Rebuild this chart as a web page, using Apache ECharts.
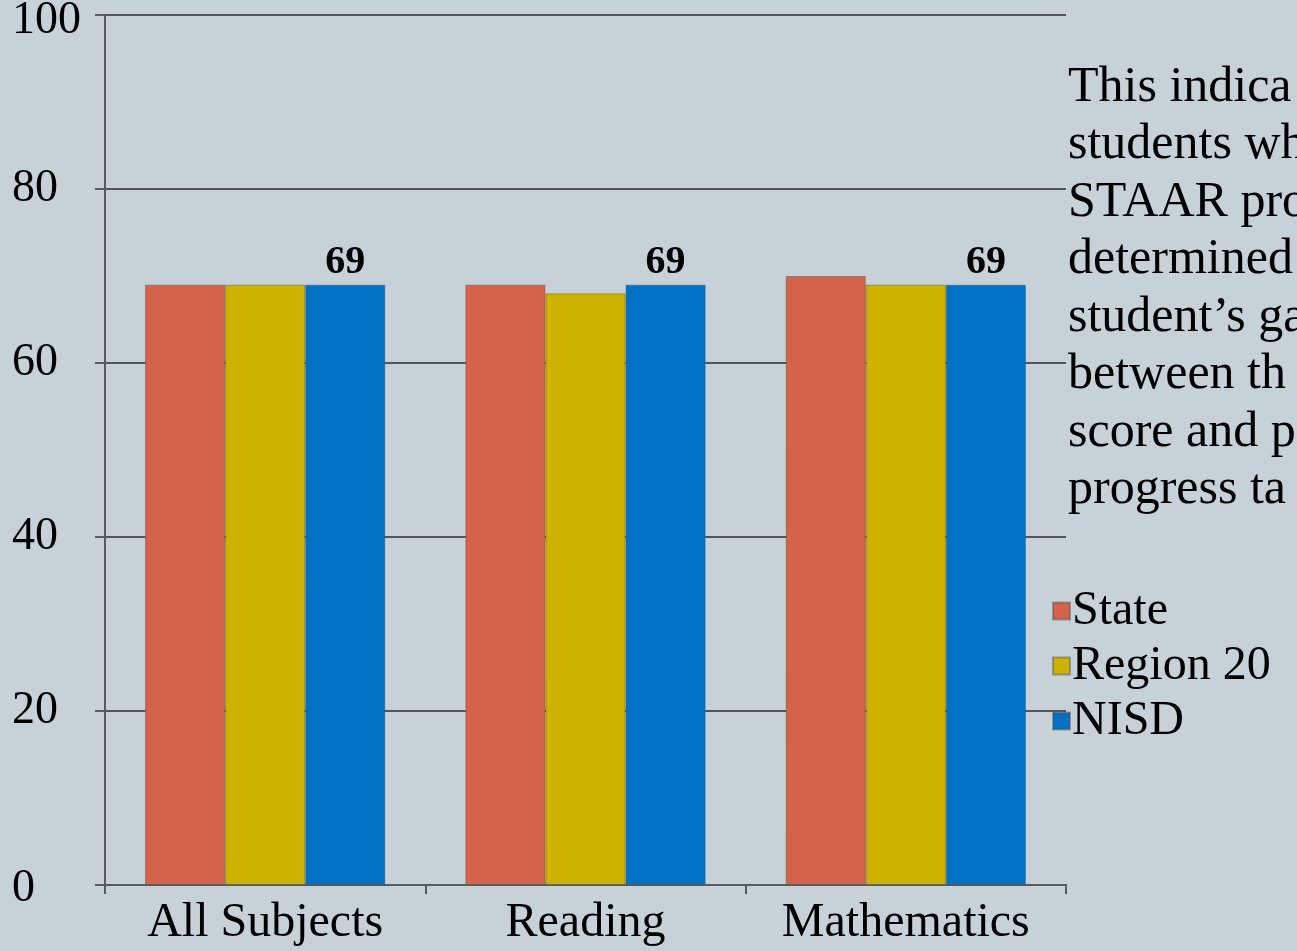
<!DOCTYPE html>
<html>
<head>
<meta charset="utf-8">
<script src="https://cdn.jsdelivr.net/npm/echarts@6/dist/echarts.min.js"></script>
<style>
html,body{margin:0;padding:0;background:#c6d1d8;}
#chart{width:1297px;height:951px;}
</style>
</head>
<body>
<div id="chart"></div>
<script>
const categories = ['All Subjects', 'Reading', 'Mathematics'];
const seriesNames = ['State', 'Region 20', 'NISD'];
const stateValues = [69, 69, 70];
const regionValues = [69, 68, 69];
const nisdValues = [69, 69, 69];
const yTicks = [0, 20, 40, 60, 80, 100];
const noteLines = ['This indica', 'students wh', 'STAAR pro', 'determined', 'student\u2019s ga', 'between th', 'score and p', 'progress ta'];

const FONT = 'Liberation Serif';
const colors = ['#d4634a', '#cdb200', '#0071c4'];

const chart = echarts.init(document.getElementById('chart'), null, {renderer: 'canvas'});
const barBorder = {borderColor: 'rgba(80,80,80,0.45)', borderWidth: 1};
const yMax = yTicks[yTicks.length - 1];

const option = {
  backgroundColor: '#c6d1d8',
  animation: false,
  color: colors,
  textStyle: {fontFamily: FONT},
  grid: {left: 105, right: 231, top: 15, bottom: 66, containLabel: false, outerBoundsMode: 'none'},
  legend: {
    orient: 'vertical',
    left: 1052,
    top: 587,
    padding: 0,
    itemWidth: 17,
    itemHeight: 17,
    itemGap: 7,
    icon: 'rect',
    data: seriesNames,
    textStyle: {fontFamily: FONT, fontSize: 48, color: '#000', lineHeight: 48, padding: [0, 0, 0, -3]}
  },
  xAxis: {
    type: 'category',
    data: categories,
    axisLine: {show: true, lineStyle: {color: '#555b60', width: 2}},
    axisTick: {show: true, length: 9, lineStyle: {color: '#555b60', width: 2}},
    axisLabel: {interval: 0, fontFamily: FONT, fontSize: 48, color: '#000', margin: 14}
  },
  yAxis: {
    type: 'value',
    min: yTicks[0],
    max: yMax,
    interval: 20,
    axisLine: {show: true, lineStyle: {color: '#555b60', width: 2}},
    axisTick: {show: true, length: 10, lineStyle: {color: '#555b60', width: 2}},
    splitLine: {show: true, lineStyle: {color: '#50565b', width: 2}},
    axisLabel: {
      fontFamily: FONT, fontSize: 46, color: '#000', align: 'left', margin: 93,
      formatter: function (v) { return v === yMax ? '{t|' + v + '}' : (v === 0 ? '{z|' + v + '}' : String(v)); },
      rich: {
        t: {fontFamily: FONT, fontSize: 46, color: '#000', padding: [12, 0, 0, 0]},
        z: {fontFamily: FONT, fontSize: 46, color: '#000', padding: [8, 0, 0, 0]}
      }
    }
  },
  series: [
    {name: seriesNames[0], type: 'bar', data: stateValues, barGap: '0%', barCategoryGap: '25%', itemStyle: barBorder},
    {name: seriesNames[1], type: 'bar', data: regionValues, barGap: '0%', barCategoryGap: '25%', itemStyle: barBorder},
    {name: seriesNames[2], type: 'bar', data: nisdValues, barGap: '0%', barCategoryGap: '25%', itemStyle: barBorder,
      label: {show: true, position: 'top', distance: 2, fontFamily: FONT, fontWeight: 'bold', fontSize: 40, color: '#000', formatter: '{c}'}}
  ],
  graphic: [
    {
      type: 'text',
      left: 1068,
      top: 59,
      silent: true,
      style: {
        text: noteLines.join('\n'),
        font: '50px "' + FONT + '"',
        fill: '#000',
        lineHeight: 57.5
      }
    }
  ]
};
chart.setOption(option);
</script>
</body>
</html>
